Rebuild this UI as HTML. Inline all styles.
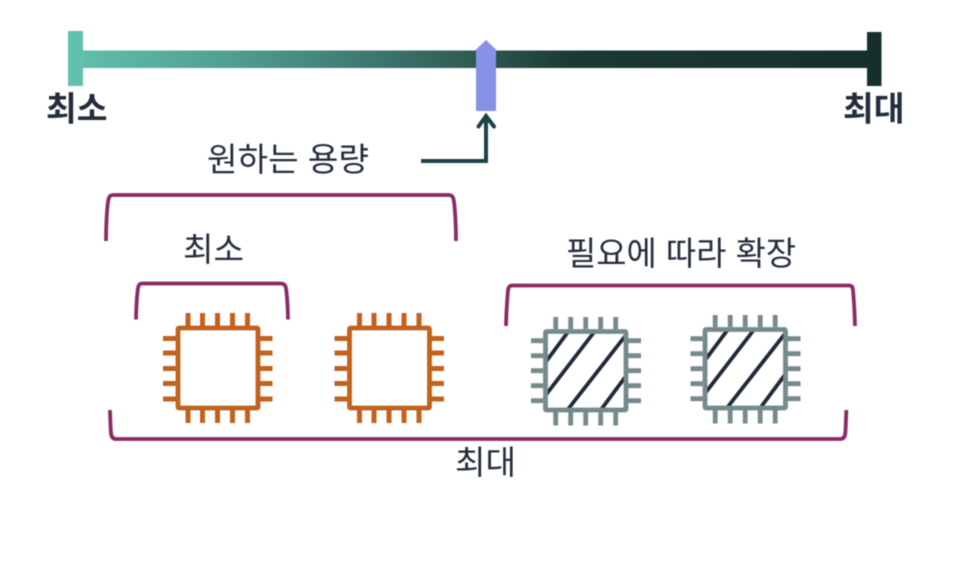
<!DOCTYPE html>
<html lang="ko">
<head>
<meta charset="utf-8">
<style>
html,body{margin:0;padding:0;background:#fff;width:956px;height:580px;overflow:hidden}
svg{display:block;filter:blur(0.5px)}
text{font-family:"Liberation Sans","Noto Sans CJK KR",sans-serif;fill:#232d3b}
</style>
</head>
<body>
<svg width="956" height="580" viewBox="0 0 956 580" xmlns="http://www.w3.org/2000/svg">
<defs>
<linearGradient id="g" x1="68" y1="0" x2="881" y2="0" gradientUnits="userSpaceOnUse">
<stop offset="0" stop-color="#62c0af"/>
<stop offset="0.2" stop-color="#519f91"/>
<stop offset="0.5" stop-color="#2f5a54"/>
<stop offset="0.62" stop-color="#1c3935"/>
<stop offset="1" stop-color="#172f2b"/>
</linearGradient>
<g id="chipO" fill="none" stroke="#c2621f" stroke-width="4.8">
<rect x="178" y="328" width="80" height="80" rx="1"/>
<path stroke-width="5" d="M188 313V326M202.500 313V326M217.500 313V326M232.500 313V326M247.500 313V326M188 410V423M202.500 410V423M217.500 410V423M232.500 410V423M247.500 410V423M163 338.500H176M163 353H176M163 368.500H176M163 383.500H176M163 399H176M260 338.500H272.500M260 353H272.500M260 368.500H272.500M260 383.500H272.500M260 399H272.500"/>
</g>
<g id="chipG">
<path fill="none" stroke="#1f2a38" stroke-width="3.8" d="M545 363L568 332M545 396L595 331M567 410.500L626 335M600 411L626 376"/>
<g fill="none" stroke="#76898c" stroke-width="4.800">
<rect x="545.500" y="331.500" width="80.500" height="78.500" rx="1"/>
<path d="M555.700 317V329M570.700 317V329M585.700 317V329M600.700 317V329M615.700 317V329M555.700 412V425.500M570.700 412V425.500M585.700 412V425.500M600.700 412V425.500M615.700 412V425.500M531 340.700H543M531 355.700H543M531 370.700H543M531 385.700H543M531 400.700H543M628 340.700H641M628 355.700H641M628 370.700H641M628 385.700H641M628 400.700H641"/>
</g>
</g>
</defs>

<rect x="80" y="50.500" width="790" height="17.500" fill="url(#g)"/>
<rect x="68" y="31" width="15" height="55" fill="#62c0af"/>
<rect x="867" y="32" width="14.500" height="54" fill="#172f2b"/>
<polygon points="476,49.500 486,40 496,49.500 496,111 476,111" fill="#8592e6"/>

<path d="M421 161H486V116" fill="none" stroke="#1a4347" stroke-width="4"/>
<path d="M478.500 126.500L486 116L494 126.500" fill="none" stroke="#1a4347" stroke-width="4" stroke-linecap="round" stroke-linejoin="miter"/>

<g fill="none" stroke="#8a2a66" stroke-width="3.800">
<path d="M106 241C106 225 107 206 108.500 199Q109.500 195 113 195H449Q452.500 195 453.500 199C455 206 456 225 456 241"/>
<path d="M136 319.500C136.300 305 137 295 138 288Q138.800 283.500 142 283.500H281Q285 283.500 286 288C287 295 287.700 305 288 319.500"/>
<path d="M506 326C506.300 312 507 302 508 290Q508.800 285.500 512 285.500H849Q852.800 285.500 853 290C854 302 854.700 312 855 326"/>
<path d="M110 410C110.300 420 110.500 428 111 433Q111.500 439 116 439H840Q845 439 845.300 433C845.700 428 846 420 846.300 410"/>
</g>

<use href="#chipO"/>
<use href="#chipO" x="171.500"/>
<use href="#chipG"/>
<use href="#chipG" x="159.500" y="-2"/>

<text x="46" y="120.500" font-size="33.400" font-weight="700">최소</text>
<text x="843" y="120.500" font-size="33.400" font-weight="700">최대</text>
<text x="207" y="171" font-size="33.200">원하는 용량</text>
<text x="183" y="261" font-size="33.200">최소</text>
<text x="566" y="265" font-size="32.900">필요에 따라 확장</text>
<text x="455" y="474" font-size="33.200">최대</text>
</svg>
</body>
</html>
